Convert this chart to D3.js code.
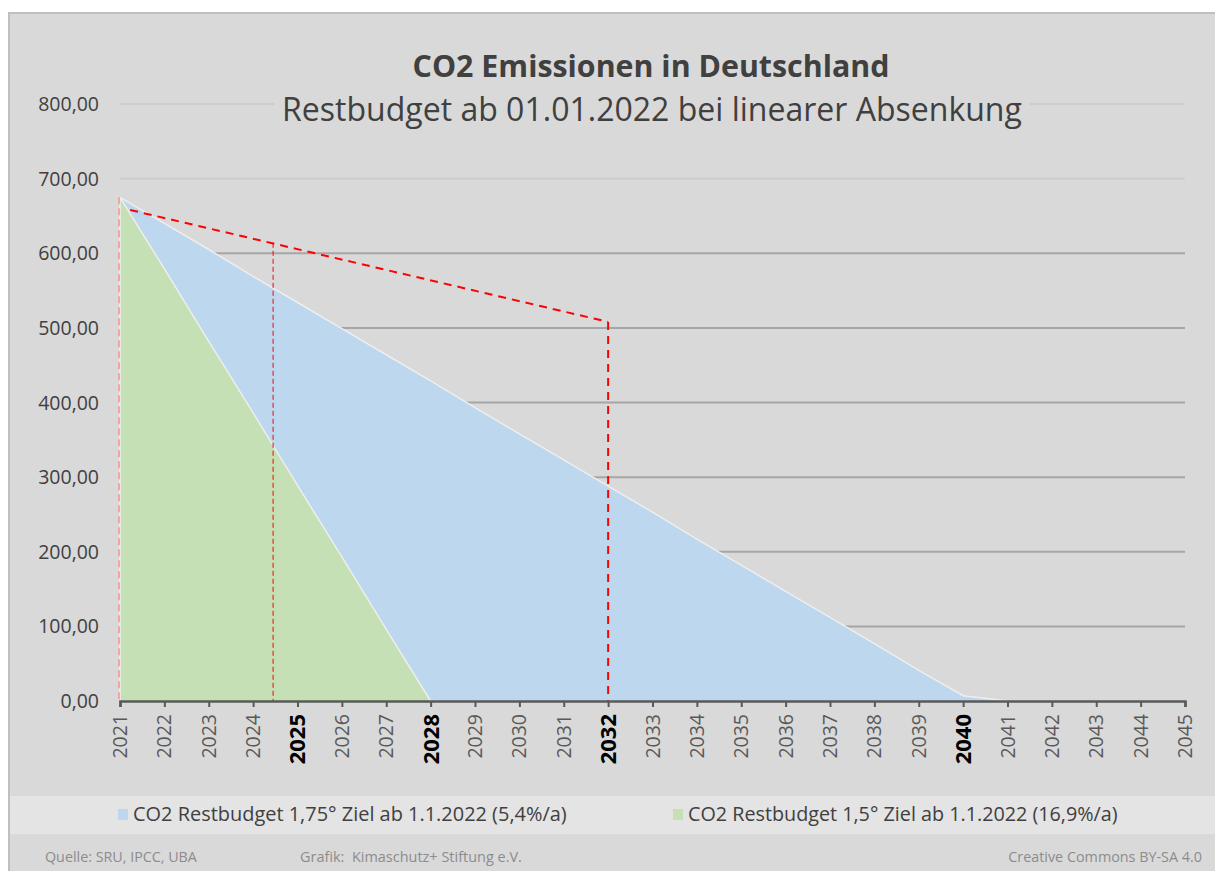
<!DOCTYPE html>
<html lang="de">
<head>
<meta charset="UTF-8">
<title>CO2 Emissionen in Deutschland</title>
<style>
  body { margin: 0; background: #fff; }
  svg { display: block; font-family: "Open Sans", "Noto Sans", sans-serif; }
</style>
</head>
<body>
<script src="https://cdn.jsdelivr.net/npm/d3@7"></script>
<script>
// --- data ---
const years = [2021, 2022, 2023, 2024, 2025, 2026, 2027, 2028, 2029, 2030, 2031, 2032, 2033,
               2034, 2035, 2036, 2037, 2038, 2039, 2040, 2041, 2042, 2043, 2044, 2045];
const boldYears = [2025, 2028, 2032, 2040];

// CO2 Restbudget 1,75° Ziel (blue), 2021..2041
const blueValues = [675, 640, 605, 569, 534, 499, 464, 429, 393, 358, 323, 288, 253,
                    217, 182, 147, 112, 77, 41, 7, 0];
// CO2 Restbudget 1,5° Ziel (green), 2021..2028
const greenValues = [675, 579, 482, 386, 289, 193, 96, 0];

const yTicks = [0, 100, 200, 300, 400, 500, 600, 700, 800];

// red dashed helper lines
const redSlope = [[2021.23, 658], [2032, 508]];
const redVerticals = [[2032, 508, 2], [2024.45, 614, 1]]; // year, top value, width
const pinkVertical = [2021, 675];

const legendItems = ["CO2 Restbudget 1,75° Ziel ab 1.1.2022 (5,4%/a)",
                     "CO2 Restbudget 1,5° Ziel ab 1.1.2022 (16,9%/a)"];
const legendColors = ["#bdd7ee", "#c5e0b4"];

const W = 1215, H = 871;

const svg = d3.select('body').append('svg')
  .attr('width', W).attr('height', H);

// frame
svg.append('rect').attr('x', 9).attr('y', 13).attr('width', W).attr('height', H)
  .attr('fill', '#d9d9d9').attr('stroke', '#bfbfbf').attr('stroke-width', 2);

// legend band
svg.append('rect').attr('x', 10).attr('y', 796).attr('width', W - 10).attr('height', 38)
  .attr('fill', '#e4e4e4');

const x = d3.scaleLinear().domain([2021, 2045]).range([120, 1185]);
const y = d3.scaleLinear().domain([0, 800]).range([701, 104]);

function fit(sel, w) {
  const cur = sel.node().getComputedTextLength();
  const fs = parseFloat(sel.attr('font-size'));
  sel.attr('font-size', fs * w / cur);
  return sel;
}

const de = d3.formatLocale({ decimal: ",", thousands: ".", grouping: [3], currency: ["", "€"] });
const fmt = de.format(".2f");

// gridlines
svg.append('g').selectAll('line').data(yTicks.filter(d => d > 0)).join('line')
  .attr('x1', x(2021)).attr('x2', x(2045))
  .attr('y1', d => y(d)).attr('y2', d => y(d))
  .attr('stroke', d => d >= 700 ? '#cdcdcd' : '#a6a6a6')
  .attr('stroke-width', 2);

// title box covers the top gridline
svg.append('rect').attr('x', 274).attr('y', 40).attr('width', 756).attr('height', 90)
  .attr('fill', '#d9d9d9');

fit(svg.append('text').attr('x', 651).attr('y', 77).attr('text-anchor', 'middle')
  .attr('font-size', 28).attr('font-weight', 'bold').attr('fill', '#404040')
  .text('CO2 Emissionen in Deutschland'), 477);
fit(svg.append('text').attr('x', 652).attr('y', 121).attr('text-anchor', 'middle')
  .attr('font-size', 30).attr('fill', '#404040')
  .text('Restbudget ab 01.01.2022 bei linearer Absenkung'), 740);

// y labels
svg.append('g').selectAll('text').data(yTicks).join('text')
  .attr('x', 99).attr('y', d => y(d)).attr('dy', '0.36em')
  .attr('text-anchor', 'end').attr('font-size', 19.5).attr('fill', '#404040')
  .text(d => fmt(d));

// areas
const area = d3.area()
  .x((d, i) => x(years[i]))
  .y0(y(0))
  .y1(d => y(d));
const topLine = d3.line()
  .x((d, i) => x(years[i]))
  .y(d => y(d));

svg.append('path').datum(blueValues).attr('d', area).attr('fill', legendColors[0]);
svg.append('path').datum(blueValues).attr('d', topLine)
  .attr('fill', 'none').attr('stroke', '#eeeeee').attr('stroke-width', 1.5);

svg.append('path').datum(greenValues).attr('d', area).attr('fill', legendColors[1]);
svg.append('path').datum(greenValues).attr('d', topLine)
  .attr('fill', 'none').attr('stroke', '#eeeeee').attr('stroke-width', 1.5);
// left edge of the areas
svg.append('line').attr('x1', x(2021)).attr('x2', x(2021))
  .attr('y1', y(greenValues[0])).attr('y2', y(0))
  .attr('stroke', '#eeeeee').attr('stroke-width', 1.5);

// red dashed lines
svg.append('line')
  .attr('x1', x(pinkVertical[0]) - 1).attr('x2', x(pinkVertical[0]) - 1)
  .attr('y1', y(pinkVertical[1])).attr('y2', y(0))
  .attr('stroke', '#f4a4a4').attr('stroke-width', 2).attr('stroke-dasharray', '7,4');

svg.append('path')
  .attr('d', d3.line().x(d => x(d[0])).y(d => y(d[1]))(redSlope))
  .attr('fill', 'none').attr('stroke', '#ff0000').attr('stroke-width', 2)
  .attr('stroke-dasharray', '8,6');

svg.append('g').selectAll('line').data(redVerticals).join('line')
  .attr('x1', d => x(d[0])).attr('x2', d => x(d[0]))
  .attr('y1', d => y(d[1])).attr('y2', y(0))
  .attr('stroke', '#ff0000').attr('stroke-width', d => d[2])
  .attr('stroke-dasharray', d => d[2] > 1 ? '8,6' : '5,3');

// x axis
const xAxis = d3.axisBottom(x).tickValues(years).tickSize(6).tickFormat('');
const gx = svg.append('g').attr('transform', `translate(0,${y(0)})`).call(xAxis);
gx.select('.domain').attr('stroke', '#595959').attr('stroke-width', 2.5);
gx.selectAll('.tick line').attr('stroke', '#595959').attr('stroke-width', 2);

svg.append('g').selectAll('text').data(years).join('text')
  .attr('transform', d => `translate(${x(d)},714) rotate(-90)`)
  .attr('dy', '0.36em').attr('text-anchor', 'end')
  .attr('font-size', d => boldYears.includes(d) ? 22 : 19.5)
  .attr('font-weight', d => boldYears.includes(d) ? 'bold' : 'normal')
  .attr('fill', d => boldYears.includes(d) ? '#000000' : '#595959')
  .text(d => d);

// legend
const legendX = [118, 673];
const legendW = [434, 430];
legendItems.forEach((t, i) => {
  svg.append('rect').attr('x', legendX[i]).attr('y', 809).attr('width', 10).attr('height', 11)
    .attr('fill', legendColors[i]);
  fit(svg.append('text').attr('x', legendX[i] + 15).attr('y', 821)
    .attr('font-size', 18).attr('fill', '#404040').text(t), legendW[i]);
});

// footer
fit(svg.append('text').attr('x', 45).attr('y', 862).attr('font-size', 12)
  .attr('fill', '#8c8c8c').text('Quelle: SRU, IPCC, UBA'), 152);
fit(svg.append('text').attr('x', 300).attr('y', 862).attr('font-size', 12)
  .attr('fill', '#8c8c8c').attr('xml:space', 'preserve')
  .text('Grafik:  Kimaschutz+ Stiftung e.V.'), 222);
fit(svg.append('text').attr('x', 1202).attr('y', 862).attr('font-size', 12)
  .attr('text-anchor', 'end').attr('fill', '#8c8c8c')
  .text('Creative Commons BY-SA 4.0'), 194);
</script>
</body>
</html>
